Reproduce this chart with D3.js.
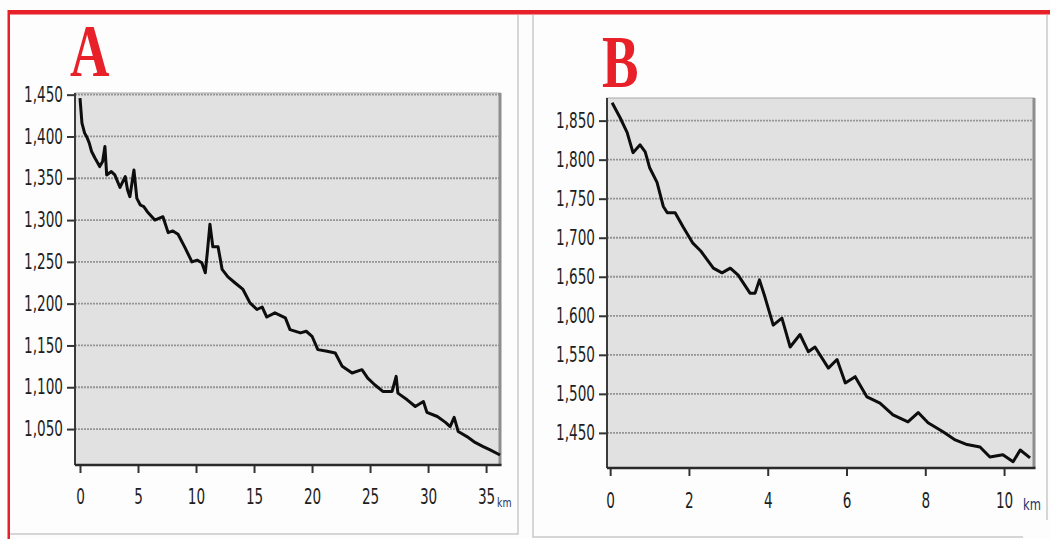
<!DOCTYPE html>
<html>
<head>
<meta charset="utf-8">
<script src="https://cdn.jsdelivr.net/npm/d3@7"></script>
<style>
  html, body { margin: 0; padding: 0; background: #fdfdfd; }
  svg { display: block; }
  .tick text { font-family: "Liberation Sans Narrow", "Arial Narrow", "DejaVu Sans Condensed", sans-serif; font-stretch: condensed; fill: #1e1e1e; }
</style>
</head>
<body>
<div id="root"></div>
<script>

const svgWidth = 1050;
const svgHeight = 539;

// Panel A profile (km, elevation m)
const aKm = [0, 0.17, 0.4, 0.6, 0.8, 1.0, 1.3, 1.7, 1.95, 2.15, 2.3, 2.7, 3.0, 3.45, 3.9, 4.1, 4.3, 4.65, 4.9, 5.2, 5.5, 5.8, 6.45, 7.15, 7.6, 8.0, 8.45,
  9.05, 9.65, 10.1, 10.5, 10.8, 11.0, 11.2, 11.45, 11.9, 12.25, 12.75, 13.35, 14.05, 14.65, 15.25, 15.7, 16.1, 16.8,
  17.7, 18.1, 19.0, 19.5, 20.0, 20.5, 21.3, 22.0, 22.6, 23.45, 24.3, 24.8, 25.4, 26.1, 26.9, 27.25, 27.4,
  28.2, 28.9, 29.6, 29.9, 30.8, 31.5, 31.9, 32.25, 32.6, 33.35, 34.05, 34.75, 35.35, 36.2];
const aElev = [1446, 1416, 1404, 1399, 1392, 1382, 1374, 1364, 1370, 1388, 1354, 1358, 1354, 1339, 1352, 1336, 1328, 1360, 1326, 1318, 1316, 1310, 1300, 1304, 1285, 1287, 1283,
  1267, 1250, 1252, 1249, 1237, 1265, 1295, 1268, 1268, 1241, 1232, 1225, 1217, 1201, 1193, 1196, 1184, 1189,
  1183, 1169, 1165, 1167, 1161, 1145, 1143, 1141, 1125, 1117, 1121, 1111, 1103, 1095, 1095, 1113, 1093,
  1085, 1077, 1083, 1070, 1065, 1058, 1053, 1064, 1047, 1041, 1034, 1029, 1025, 1019];
const aYTicks = [1050, 1100, 1150, 1200, 1250, 1300, 1350, 1400, 1450];
const aXTicks = [0, 5, 10, 15, 20, 25, 30, 35];

// Panel B profile (km, elevation m)
const bKm = [0.05, 0.25, 0.43, 0.58, 0.76, 0.89, 1.0, 1.19, 1.35, 1.45, 1.65, 1.85, 2.1, 2.3, 2.62, 2.84, 3.05,
  3.25, 3.55, 3.68, 3.79, 3.93, 4.14, 4.36, 4.57, 4.82, 5.03, 5.2, 5.54, 5.76, 5.97, 6.22, 6.52, 6.85,
  7.18, 7.56, 7.82, 8.07, 8.46, 8.76, 9.06, 9.39, 9.64, 9.97, 10.23, 10.41, 10.66];
const bElev = [1873, 1854, 1835, 1809, 1819, 1810, 1790, 1771, 1740, 1732, 1732, 1714, 1693, 1683, 1661, 1655, 1661,
  1652, 1629, 1629, 1646, 1624, 1588, 1597, 1560, 1576, 1554, 1560, 1533, 1544, 1514, 1522, 1496, 1488,
  1473, 1464, 1476, 1463, 1451, 1441, 1435, 1432, 1419, 1422, 1413, 1428, 1418];
const bYTicks = [1450, 1500, 1550, 1600, 1650, 1700, 1750, 1800, 1850];
const bXTicks = [0, 2, 4, 6, 8, 10];

const svg = d3.select("#root")
  .append("svg")
  .attr("width", svgWidth)
  .attr("height", svgHeight);

// outer frames
svg.append("path")
  .attr("d", "M518,15 V534 H10")
  .attr("fill", "none").attr("stroke", "#c9c9c9").attr("stroke-width", 1.5);
svg.append("path")
  .attr("d", "M533,15 V537 H1023 M1047,15 V520")
  .attr("fill", "none").attr("stroke", "#c9c9c9").attr("stroke-width", 1.5);
svg.append("rect").attr("x", 8).attr("y", 10).attr("width", 1042).attr("height", 4.5).attr("fill", "#e8202a");
svg.append("rect").attr("x", 7.5).attr("y", 10).attr("width", 2.5).attr("height", 529).attr("fill", "#e8202a");

const drawPanel = (p) => {
  const x = d3.scaleLinear().domain(p.xDomain).range([p.left, p.right]);
  const y = d3.scaleLinear().domain(p.yDomain).range([p.bottom, p.top]);
  const g = svg.append("g");

  g.append("rect")
    .attr("x", p.left).attr("y", p.top)
    .attr("width", p.right - p.left).attr("height", p.bottom - p.top)
    .attr("fill", "#e1e1e1")
    .attr("stroke", "#a8a8a8").attr("stroke-width", 1);

  // grid
  g.selectAll(".grid")
    .data(p.yTicks)
    .join("line")
    .attr("x1", p.left).attr("x2", p.right)
    .attr("y1", d => y(d)).attr("y2", d => y(d))
    .attr("stroke", "#959595")
    .attr("stroke-width", 1.8)
    .attr("stroke-dasharray", "2,1");

  // right shadow edge
  g.append("line")
    .attr("x1", p.right).attr("x2", p.right)
    .attr("y1", p.top).attr("y2", p.bottom)
    .attr("stroke", "#8e8e8e").attr("stroke-width", 3);

  // elevation line
  g.append("path")
    .datum(d3.range(p.km.length))
    .attr("fill", "none")
    .attr("stroke", "#0d0d0d")
    .attr("stroke-width", 3)
    .attr("stroke-linejoin", "round")
    .attr("d", d3.line().x(i => x(p.km[i])).y(i => y(p.elev[i])));

  // axes
  const yAxis = g.append("g")
    .attr("transform", `translate(${p.left},0)`)
    .call(d3.axisLeft(y).tickValues(p.yTicks).tickSize(8).tickFormat(d3.format(",")));
  yAxis.select(".domain").remove();
  yAxis.selectAll(".tick line").attr("stroke", "#333").attr("stroke-width", 2);
  yAxis.selectAll(".tick text")
    .attr("font-size", 21)
    .attr("x", 0)
    .attr("transform", "translate(-12,0) scale(0.72,1)");

  const xAxis = g.append("g")
    .attr("transform", `translate(0,${p.bottom})`)
    .call(d3.axisBottom(x).tickValues(p.xTicks).tickSize(8).tickPadding(p.xPad));
  xAxis.select(".domain").remove();
  xAxis.selectAll(".tick line").attr("stroke", "#333").attr("stroke-width", 2);
  xAxis.selectAll(".tick text")
    .attr("font-size", 21)
    .attr("transform", "scale(0.72,1)");

  g.append("line")
    .attr("x1", p.left).attr("x2", p.left)
    .attr("y1", p.top).attr("y2", p.bottom)
    .attr("stroke", "#3a3a3a").attr("stroke-width", 2);
  g.append("line")
    .attr("x1", p.left).attr("x2", p.right + 1.5)
    .attr("y1", p.bottom).attr("y2", p.bottom)
    .attr("stroke", "#2a2a2a").attr("stroke-width", 2.5);

  g.append("text")
    .attr("transform", `translate(${p.kmX},${p.kmY}) scale(0.8,1)`)
    .attr("font-family", "'Liberation Sans Narrow', 'DejaVu Sans Condensed', sans-serif")
    .attr("font-size", p.kmSize)
    .attr("fill", "#22346a")
    .text("km");

  g.append("text")
    .attr("transform", `translate(${p.letterX},${p.letterY}) scale(0.74,1)`)
    .attr("font-family", "'Liberation Serif', 'DejaVu Serif', serif")
    .attr("font-weight", "bold")
    .attr("font-size", 74)
    .attr("fill", "#e8202a")
    .text(p.letter);
};

drawPanel({
  letter: "A", letterX: 70, letterY: 76,
  km: aKm, elev: aElev, xTicks: aXTicks, yTicks: aYTicks,
  xDomain: [-0.43, 36.2], yDomain: [1007, 1452],
  left: 75, right: 500, top: 93, bottom: 465, xPad: 16,
  kmX: 497, kmY: 507, kmSize: 13
});

drawPanel({
  letter: "B", letterX: 602, letterY: 87,
  km: bKm, elev: bElev, xTicks: bXTicks, yTicks: bYTicks,
  xDomain: [-0.08, 10.76], yDomain: [1405, 1879],
  left: 607, right: 1034, top: 98, bottom: 468, xPad: 17,
  kmX: 1023, kmY: 510, kmSize: 16
});

</script>
</body>
</html>
